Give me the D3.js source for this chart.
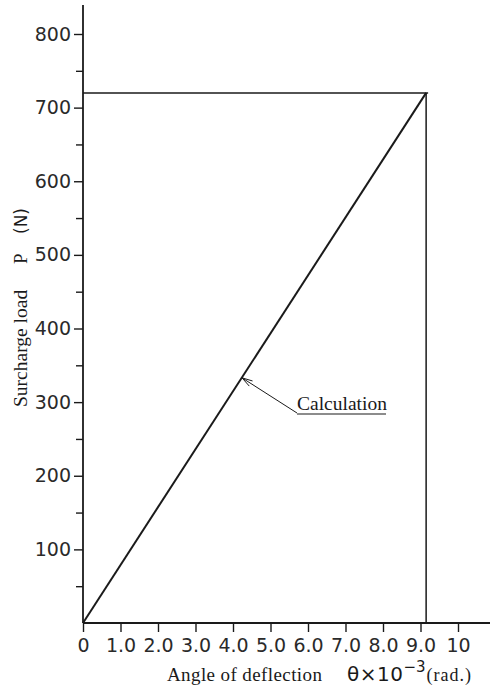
<!DOCTYPE html>
<html>
<head>
<meta charset="utf-8">
<script src="https://cdn.jsdelivr.net/npm/d3@7"></script>
<style>
  html, body { margin: 0; padding: 0; background: #fff; }
  svg { display: block; }
  .sans { font-family: "DejaVu Sans", "Liberation Sans", sans-serif; }
  .serif { font-family: "Liberation Serif", "Times New Roman", serif; }
</style>
</head>
<body>
<svg id="chart" width="490" height="686"></svg>
<script>
// Load–deflection data (calculated line) and axis tick definitions
const thetaValues = [0, 9.15];          // angle of deflection, ×10^-3 rad
const loadValues = [0, 720];            // surcharge load P, N
const limitTheta = 9.15;                // vertical limit line
const limitLoad = 720;                  // horizontal limit line
const calcPoint = [4.24, 333];          // point on line pointed at by the label
const xTickValues = [0, 1, 2, 3, 4, 5, 6, 7, 8, 9, 10];
const xTickLabels = ["0", "1.0", "2.0", "3.0", "4.0", "5.0", "6.0", "7.0", "8.0", "9.0", "10"];
const yMajorTicks = [100, 200, 300, 400, 500, 600, 700, 800];
const yMinorTicks = [50, 150, 250, 350, 450, 550, 650, 750];

const svg = d3.select("#chart");
const ink = "#1a1a1a";
const labelInk = "#2a2a2a";

const x = d3.scaleLinear().domain([0, 10]).range([83, 458]);
const y = d3.scaleLinear().domain([0, 800]).range([623, 34]);

// x axis
const xAxis = d3.axisBottom(x)
  .tickValues(xTickValues)
  .tickFormat((d, i) => xTickLabels[i])
  .tickSize(9)
  .tickSizeOuter(0)
  .tickPadding(7);
const gx = svg.append("g").attr("transform", `translate(0,${y(0)})`).call(xAxis);
gx.select(".domain").remove();
gx.selectAll(".tick line").attr("stroke", ink).attr("stroke-width", 1.4);
gx.selectAll(".tick text")
  .attr("class", "sans").attr("fill", labelInk)
  .style("font-size", "19px")
  .attr("dy", "0.71em");
svg.append("line")
  .attr("x1", x(0)).attr("x2", 490)
  .attr("y1", y(0)).attr("y2", y(0))
  .attr("stroke", ink).attr("stroke-width", 1.8);

// y axis
const yAxis = d3.axisLeft(y)
  .tickValues(yMajorTicks)
  .tickSize(9)
  .tickSizeOuter(0)
  .tickPadding(3);
const gy = svg.append("g").attr("transform", `translate(${x(0)},0)`).call(yAxis);
gy.select(".domain").remove();
gy.selectAll(".tick line").attr("stroke", ink).attr("stroke-width", 1.4);
gy.selectAll(".tick text")
  .attr("class", "sans").attr("fill", labelInk)
  .style("font-size", "19px");
const gyMinor = svg.append("g").attr("transform", `translate(${x(0)},0)`)
  .call(d3.axisLeft(y).tickValues(yMinorTicks).tickSize(7).tickFormat(""));
gyMinor.select(".domain").remove();
gyMinor.selectAll(".tick line").attr("stroke", ink).attr("stroke-width", 1.4);
svg.append("line")
  .attr("x1", x(0)).attr("x2", x(0))
  .attr("y1", 5).attr("y2", y(0))
  .attr("stroke", ink).attr("stroke-width", 1.8);

// limit lines
svg.append("line")
  .attr("x1", x(0)).attr("x2", x(limitTheta) + 2)
  .attr("y1", y(limitLoad)).attr("y2", y(limitLoad))
  .attr("stroke", ink).attr("stroke-width", 1.5);
svg.append("line")
  .attr("x1", x(limitTheta)).attr("x2", x(limitTheta))
  .attr("y1", y(limitLoad)).attr("y2", y(0))
  .attr("stroke", ink).attr("stroke-width", 1.5);

// calculated line
const line = d3.line().x(d => x(d[0])).y(d => y(d[1]));
svg.append("path")
  .datum(d3.zip(thetaValues, loadValues))
  .attr("d", line)
  .attr("fill", "none")
  .attr("stroke", ink)
  .attr("stroke-width", 2);

// "Calculation" label with leader and arrow
const px = x(calcPoint[0]), py = y(calcPoint[1]);
const lx = 297, ly = 413;
svg.append("polyline")
  .attr("points", `${lx},${ly} ${px},${py}`)
  .attr("fill", "none").attr("stroke", ink).attr("stroke-width", 1);
const ang = Math.atan2(ly - py, lx - px);
const ah = 11;
svg.append("path")
  .attr("d", `M${px + ah * Math.cos(ang - 0.28)},${py + ah * Math.sin(ang - 0.28)} L${px},${py} L${px + ah * Math.cos(ang + 0.28)},${py + ah * Math.sin(ang + 0.28)}`)
  .attr("fill", "none").attr("stroke", ink).attr("stroke-width", 1);
svg.append("text")
  .attr("class", "serif").attr("x", 297).attr("y", 410)
  .attr("fill", ink).style("font-size", "19.5px")
  .text("Calculation");
svg.append("line")
  .attr("x1", 297).attr("x2", 386).attr("y1", 414).attr("y2", 414)
  .attr("stroke", ink).attr("stroke-width", 1.2);

// x axis title
svg.append("text").attr("class", "serif")
  .attr("x", 167).attr("y", 681).attr("fill", ink)
  .style("font-size", "19px").style("letter-spacing", "0.4px")
  .text("Angle of deflection");
const xt = svg.append("text").attr("y", 681).attr("fill", ink);
xt.append("tspan").attr("class", "sans").attr("x", 347).style("font-size", "20px").style("letter-spacing", "0.5px").text("θ×10");
xt.append("tspan").attr("class", "sans").attr("dy", -9).style("font-size", "15px").text("−3");
xt.append("tspan").attr("class", "serif").attr("dy", 9).attr("dx", 1).style("font-size", "18px").style("letter-spacing", "1px").text("(rad.)");

// y axis title
svg.append("text").attr("class", "serif")
  .attr("transform", "translate(27,407) rotate(-90)")
  .attr("fill", ink).style("font-size", "19.5px")
  .text("Surcharge load");
svg.append("text").attr("class", "serif")
  .attr("transform", "translate(27,264) rotate(-90)")
  .attr("fill", ink).style("font-size", "19px")
  .text("P");
svg.append("text").attr("class", "sans")
  .attr("transform", "translate(27,234) rotate(-90)")
  .attr("fill", ink).style("font-size", "17px")
  .text("(N)");
</script>
</body>
</html>
